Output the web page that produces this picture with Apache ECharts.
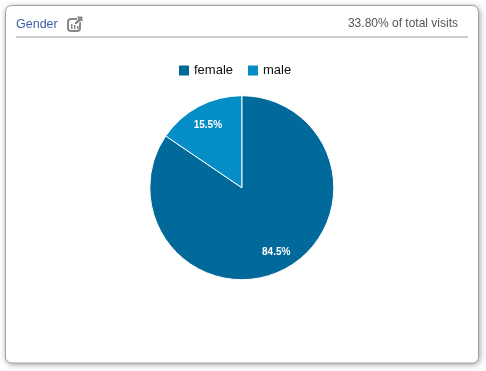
<!DOCTYPE html>
<html><head><meta charset="utf-8">
<style>html,body{margin:0;padding:0;background:#fff}#c{width:486px;height:371px}</style>
<script src="https://cdn.jsdelivr.net/npm/echarts@6/dist/echarts.min.js"></script>
</head><body><div id="c"></div>
<script>
const categories = ['female', 'male'];
const shares = [84.5, 15.5];
const sliceColors = ['#026a9b', '#058dc7'];
const labelOffsets = [[11.5, 21.5], [-11, -19.5]];
const titleText = 'Gender';
const noteText = '33.80% of total visits';
const font = '"Liberation Sans", Arial, sans-serif';

const chart = echarts.init(document.getElementById('c'), null, {renderer: 'canvas'});
chart.setOption({
  animation: false,
  backgroundColor: '#fff',
  legend: {
    left: 174, top: 59, itemWidth: 10, itemHeight: 10, itemGap: 15, padding: 5,
    icon: 'rect', selectedMode: false,
    textStyle: {fontFamily: font, fontSize: 13, color: '#111', padding: [0, 0, 0, 0]},
    itemStyle: {borderWidth: 0},
    data: categories
  },
  graphic: [
    {type: 'rect', z: -3, silent: true, shape: {x: 6, y: 6, width: 473, height: 357, r: 6},
      style: {fill: '#fff', shadowBlur: 6, shadowColor: 'rgba(0,0,0,0.45)', shadowOffsetX: 0.5, shadowOffsetY: 1}},
    {type: 'rect', z: -2, silent: true, shape: {x: 5.5, y: 5.5, width: 473, height: 357.5, r: 6},
      style: {fill: '#fff', stroke: '#a0a0a0', lineWidth: 1}},
    {type: 'line', silent: true, shape: {x1: 16, y1: 37, x2: 468, y2: 37},
      style: {stroke: '#cccccc', lineWidth: 2}},
    {type: 'text', silent: true, x: 16, y: 24.5,
      style: {text: titleText, fill: '#3f5ea8', fontFamily: font, fontSize: 12.5, textVerticalAlign: 'middle'}},
    {type: 'text', silent: true, x: 458, y: 23.5,
      style: {text: noteText, fill: '#555', fontFamily: font, fontSize: 12, textAlign: 'right', textVerticalAlign: 'middle'}},
    {type: 'group', silent: true, x: 67, y: 16, children: [
      {type: 'rect', shape: {x: 1, y: 3, width: 12, height: 12, r: 3}, style: {fill: 'none', stroke: '#888', lineWidth: 2}},
      {type: 'rect', shape: {x: 4, y: 8, width: 1.5, height: 5}, style: {fill: '#888'}},
      {type: 'rect', shape: {x: 7, y: 9, width: 1.5, height: 4}, style: {fill: '#888'}},
      {type: 'rect', shape: {x: 10, y: 10, width: 1.5, height: 3}, style: {fill: '#888'}},
      {type: 'polygon', shape: {points: [[9, 0], [16, 0], [16, 7], [14, 5], [9, 9], [7, 7], [11, 3]]}, style: {fill: '#888', stroke: '#fff', lineWidth: 1}}
    ]}
  ],
  series: [{
    type: 'pie',
    center: [241.8, 187.7],
    radius: [0, 92],
    startAngle: 90,
    clockwise: true,
    silent: true,
    itemStyle: {borderColor: '#fff', borderWidth: 1},
    labelLine: {show: false},
    label: {
      show: true, position: 'inside', formatter: '{d}%',
      fontFamily: font, fontSize: 10, fontWeight: 'bold', color: '#fff'
    },
    data: categories.map((name, i) => ({
      name, value: shares[i],
      itemStyle: {color: sliceColors[i]},
      label: {offset: labelOffsets[i]}
    }))
  }]
});
</script></body></html>
